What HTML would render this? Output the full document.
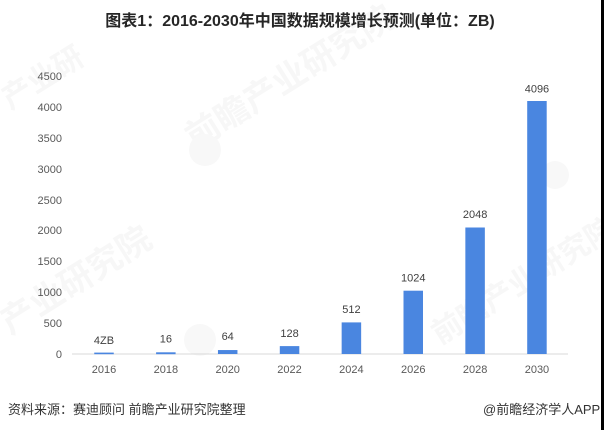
<!DOCTYPE html>
<html>
<head>
<meta charset="utf-8">
<style>
  html, body { margin:0; padding:0; background:#ffffff; }
  body { width:604px; height:430px; overflow:hidden; position:relative; }
  svg { display:block; }
  .t { font-family:"Liberation Sans","Noto Sans CJK SC",sans-serif; }
</style>
</head>
<body>
<svg width="604" height="430" viewBox="0 0 604 430" xmlns="http://www.w3.org/2000/svg">
  <rect x="0" y="0" width="604" height="430" fill="#ffffff"/>

  <!-- faint watermarks -->
  <g class="t" fill="#f7f7f7" font-weight="bold">
    <text x="10" y="110" font-size="30" transform="rotate(-32 10 110)">产业研</text>
    <text x="195" y="150" font-size="34" transform="rotate(-32 195 150)">前瞻产业研究院</text>
    <text x="10" y="335" font-size="34" transform="rotate(-32 10 335)">产业研究院</text>
    <text x="440" y="345" font-size="30" transform="rotate(-32 440 345)">前瞻产业研究院</text>
  </g>
  <g fill="#f8f8f8">
    <circle cx="205" cy="150" r="16"/>
    <circle cx="200" cy="340" r="16"/>
    <circle cx="555" cy="175" r="14"/>
  </g>

  <!-- title -->
  <text class="t" x="300" y="26" text-anchor="middle" font-size="16" font-weight="bold" fill="#262626">图表1：2016-2030年中国数据规模增长预测(单位：ZB)</text>

  <!-- y axis labels -->
  <g class="t" font-size="11" fill="#595959" text-anchor="end">
    <text x="62" y="80">4500</text>
    <text x="62" y="111">4000</text>
    <text x="62" y="142">3500</text>
    <text x="62" y="173">3000</text>
    <text x="62" y="204">2500</text>
    <text x="62" y="234">2000</text>
    <text x="62" y="265">1500</text>
    <text x="62" y="296">1000</text>
    <text x="62" y="327">500</text>
    <text x="62" y="358">0</text>
  </g>

  <!-- baseline axis -->
  <line x1="72" y1="354" x2="568" y2="354" stroke="#d9d9d9" stroke-width="1"/>

  <!-- bars -->
  <g fill="#4a86e0">
    <rect x="94.25" y="352.6" width="19.5" height="1.6"/>
    <rect x="156.1" y="352.3" width="19.5" height="1.9"/>
    <rect x="217.95" y="350.05" width="19.5" height="3.95"/>
    <rect x="279.8" y="346.1" width="19.5" height="7.9"/>
    <rect x="341.65" y="322.4" width="19.5" height="31.6"/>
    <rect x="403.5" y="290.7" width="19.5" height="63.3"/>
    <rect x="465.35" y="227.5" width="19.5" height="126.5"/>
    <rect x="527.2" y="101" width="19.5" height="253"/>
  </g>

  <!-- value labels -->
  <g class="t" font-size="11" fill="#404040" text-anchor="middle">
    <text x="104" y="344">4ZB</text>
    <text x="165.85" y="342.5">16</text>
    <text x="227.7" y="340">64</text>
    <text x="289.55" y="337">128</text>
    <text x="351.4" y="313">512</text>
    <text x="413.25" y="281.5">1024</text>
    <text x="475.1" y="218">2048</text>
    <text x="536.95" y="92.5">4096</text>
  </g>

  <!-- x labels -->
  <g class="t" font-size="11" fill="#595959" text-anchor="middle">
    <text x="104" y="373">2016</text>
    <text x="165.85" y="373">2018</text>
    <text x="227.7" y="373">2020</text>
    <text x="289.55" y="373">2022</text>
    <text x="351.4" y="373">2024</text>
    <text x="413.25" y="373">2026</text>
    <text x="475.1" y="373">2028</text>
    <text x="536.95" y="373">2030</text>
  </g>

  <!-- footer -->
  <text class="t" x="8" y="414" font-size="13" fill="#333333">资料来源：赛迪顾问 前瞻产业研究院整理</text>
  <text class="t" x="483" y="414" font-size="13" fill="#333333">@前瞻经济学人APP</text>

  <!-- right edge dark strip -->
  <rect x="601" y="0" width="3" height="430" fill="#000000"/>
</svg>
</body>
</html>
